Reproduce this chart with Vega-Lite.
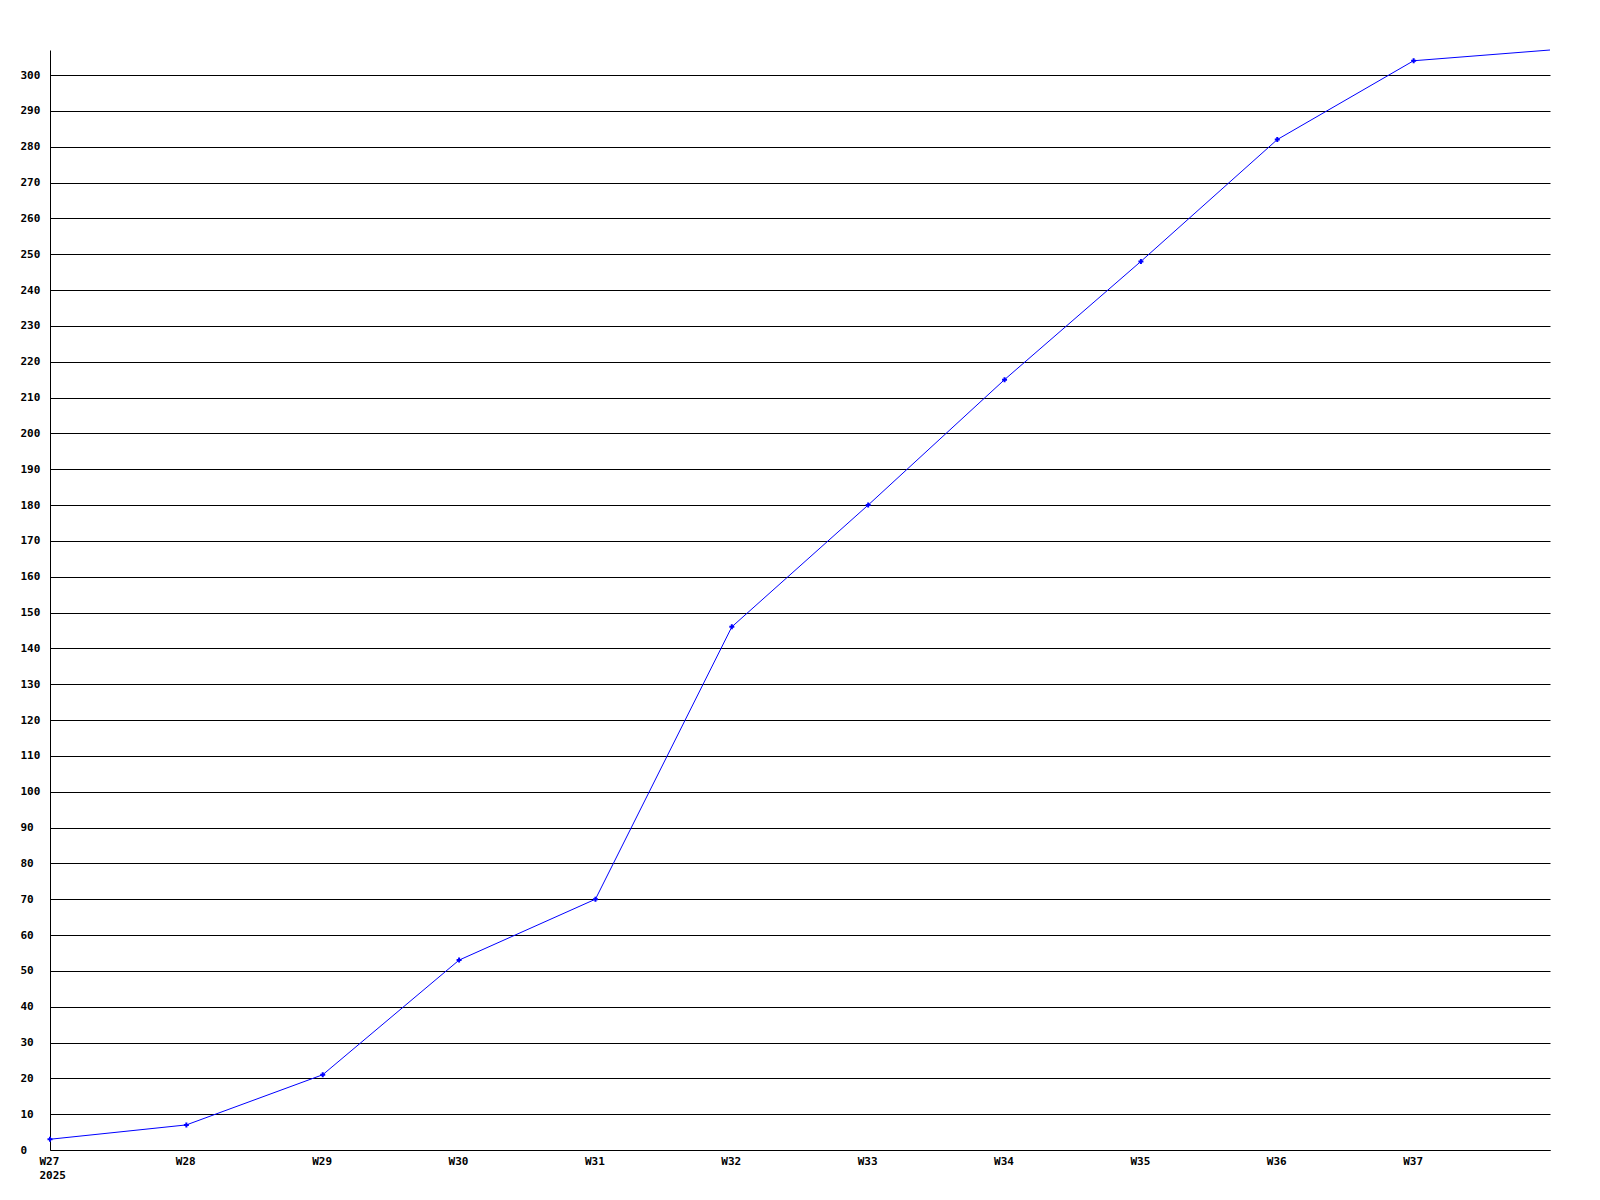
{
  "$schema": "https://vega.github.io/schema/vega-lite/v6.json",
  "autosize": {"type": "none"},
  "padding": {"left": 50, "top": 50, "right": 50, "bottom": 50},
  "width": 1500,
  "height": 1100,
  "background": "white",
  "config": {
    "view": {"stroke": null},
    "font": "DejaVu Sans Mono",
    "axis": {
      "labelFont": "DejaVu Sans Mono",
      "labelFontWeight": "bold",
      "labelFontSize": 11,
      "labelColor": "black",
      "domainColor": "black",
      "gridColor": "black",
      "gridOpacity": 1,
      "gridWidth": 1,
      "tickSize": 0,
      "title": null
    }
  },
  "data": {
    "values": [
      {"week": 27, "count": 3},
      {"week": 28, "count": 7},
      {"week": 29, "count": 21},
      {"week": 30, "count": 53},
      {"week": 31, "count": 70},
      {"week": 32, "count": 146},
      {"week": 33, "count": 180},
      {"week": 34, "count": 215},
      {"week": 35, "count": 248},
      {"week": 36, "count": 282},
      {"week": 37, "count": 304},
      {"week": 38, "count": 307}
    ]
  },
  "encoding": {
    "x": {
      "field": "week",
      "type": "quantitative",
      "scale": {"domain": [27, 38], "nice": false, "zero": false},
      "axis": {
        "values": [27, 28, 29, 30, 31, 32, 33, 34, 35, 36, 37],
        "grid": false,
        "labelExpr": "datum.value == 27 ? ['W27', '2025'] : 'W' + datum.value",
        "labelAlign": "left",
        "labelOffset": -11,
        "labelBaseline": "top",
        "labelPadding": 5,
        "labelLineHeight": 14,
        "labelFlush": false,
        "labelOverlap": false
      }
    },
    "y": {
      "field": "count",
      "type": "quantitative",
      "scale": {"domain": [0, 307], "nice": false},
      "axis": {
        "values": [0, 10, 20, 30, 40, 50, 60, 70, 80, 90, 100, 110, 120, 130, 140, 150, 160, 170, 180, 190, 200, 210, 220, 230, 240, 250, 260, 270, 280, 290, 300],
        "grid": true,
        "labelAlign": "left",
        "labelPadding": 30,
        "labelFlush": false,
        "labelOverlap": false
      }
    }
  },
  "layer": [
    {
      "mark": {"type": "line", "color": "#0000ff", "strokeWidth": 1}
    },
    {
      "transform": [{"filter": "datum.week <= 37"}],
      "mark": {"type": "point", "shape": "cross", "filled": true, "color": "#0000ff", "size": 25, "opacity": 1}
    }
  ]
}
